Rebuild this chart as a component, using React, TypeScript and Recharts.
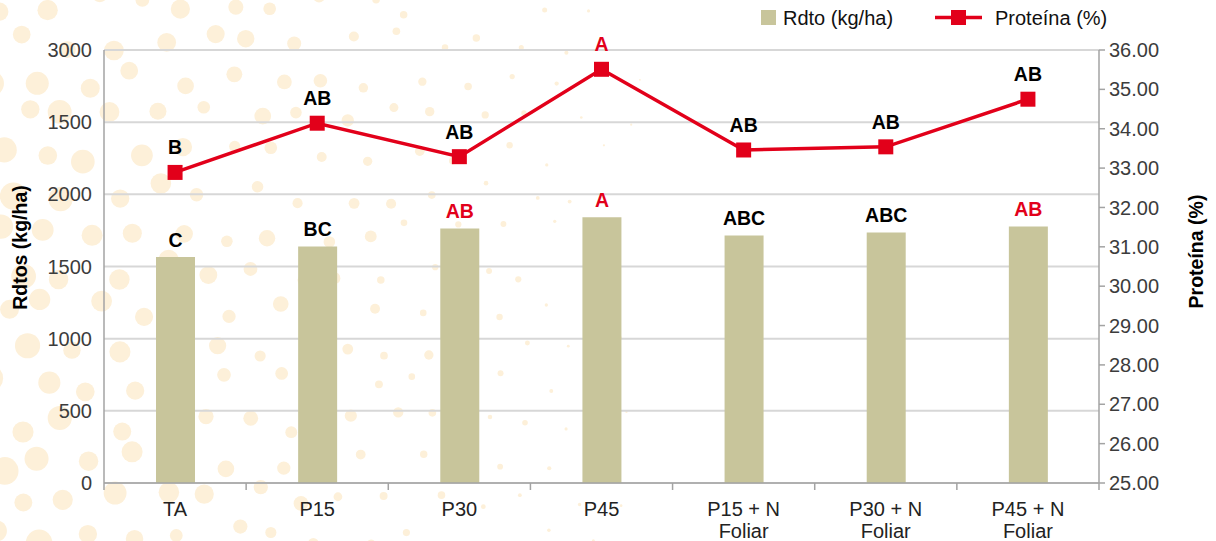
import React from "react";
import { Bar, CartesianGrid, ComposedChart, LabelList, Legend, Line, XAxis, YAxis } from "recharts";

const FONT = "'Liberation Sans', Arial, Helvetica, sans-serif";
const RED = "#e2001a";
const BAR_FILL = "#c8c59b";
const AXIS_GREY = "#a3a3a3";

// treatments, second line of each label after "|"
const treatments = ["TA", "P15", "P30", "P45", "P15 + N|Foliar", "P30 + N|Foliar", "P45 + N|Foliar"];
const yieldKgHa = [1565, 1639, 1764, 1842, 1715, 1736, 1778];
const proteinPct = [32.89, 34.14, 33.29, 35.51, 33.46, 33.54, 34.75];

// significance letters
const yieldLetters = ["C", "BC", "AB", "A", "ABC", "ABC", "AB"];
const yieldLetterRed = [false, false, true, true, false, false, true];
const proteinLetters = ["B", "AB", "AB", "A", "AB", "AB", "AB"];
const proteinLetterRed = [false, false, false, true, false, false, false];

const yieldTicks = [0, 500, 1000, 1500, 2000, 2500, 3000];
const yieldTickLabels = ["0", "500", "1000", "1500", "2000", "1500", "3000"];
const proteinTicks = [25, 26, 27, 28, 29, 30, 31, 32, 33, 34, 35, 36];

const data = treatments.map((name, i) => ({
  name,
  rdto: yieldKgHa[i],
  proteina: proteinPct[i],
}));

// halftone dot background, fading out towards the right
function hash(a: number, b: number, k: number) {
  const s = Math.sin(a * 127.1 + b * 311.7 + k * 74.7) * 43758.5453;
  return s - Math.floor(s);
}

const bgDots: { cx: number; cy: number; r: number }[] = [];
for (let row = 0; row < 16; row++) {
  for (let col = 0; col < 20; col++) {
    const cx = col * 46 + (row % 2) * 23 + (hash(row, col, 1) - 0.5) * 22;
    const cy = row * 38 + 4 + (hash(row, col, 2) - 0.5) * 22;
    const t = 1 - cx / 730;
    if (t <= 0) continue;
    const r = 12.5 * Math.pow(t, 1.25) * (0.72 + 0.45 * hash(row, col, 3));
    if (r < 0.9) continue;
    bgDots.push({ cx, cy, r });
  }
}

function Background() {
  return (
    <svg width={1216} height={541} style={{ position: "absolute", left: 0, top: 0 }}>
      {bgDots.map((d, i) => (
        <circle key={i} cx={d.cx} cy={d.cy} r={d.r} fill="#fdf0d9" />
      ))}
    </svg>
  );
}

function TreatmentTick(props: any) {
  const { x, y, payload, index } = props;
  const half = payload && payload.offset ? payload.offset : 71;
  const lines = String(payload.value).split("|");
  return (
    <g>
      <line x1={x - half} x2={x - half} y1={y} y2={y + 7} stroke={AXIS_GREY} strokeWidth={1.5} />
      {index === treatments.length - 1 && (
        <line x1={x + half} x2={x + half} y1={y} y2={y + 7} stroke={AXIS_GREY} strokeWidth={1.5} />
      )}
      {lines.map((t, i) => (
        <text key={i} x={x} y={y + 33 + i * 22} textAnchor="middle" fontFamily={FONT} fontSize={20} fill="#222">
          {t}
        </text>
      ))}
    </g>
  );
}

function SquareDot(props: any) {
  const { cx, cy, index } = props;
  if (cx == null || cy == null) return null;
  return <rect key={`sq-${index}`} x={cx - 7.5} y={cy - 7.5} width={15} height={15} fill={RED} />;
}

function BarLetter(props: any) {
  const { x, y, width, index } = props;
  return (
    <text
      x={x + width / 2}
      y={y - 10}
      textAnchor="middle"
      fontFamily={FONT}
      fontWeight="bold"
      fontSize={19.5}
      fill={yieldLetterRed[index] ? RED : "#000"}
    >
      {yieldLetters[index]}
    </text>
  );
}

function LineLetter(props: any) {
  const { x, y, index } = props;
  return (
    <text
      x={x}
      y={y - 18}
      textAnchor="middle"
      fontFamily={FONT}
      fontWeight="bold"
      fontSize={19.5}
      fill={proteinLetterRed[index] ? RED : "#000"}
    >
      {proteinLetters[index]}
    </text>
  );
}

function LegendBox() {
  return (
    <svg width={1216} height={32}>
      <rect x={761} y={10} width={15} height={15} fill={BAR_FILL} />
      <text x={783} y={25} fontFamily={FONT} fontSize={20} fill="#111">
        Rdto (kg/ha)
      </text>
      <line x1={935} x2={982} y1={17.5} y2={17.5} stroke={RED} strokeWidth={3.5} />
      <rect x={951} y={10} width={15} height={15} fill={RED} />
      <text x={995} y={25} fontFamily={FONT} fontSize={20} fill="#111">
        Proteína (%)
      </text>
    </svg>
  );
}

export default function App() {
  return (
    <div style={{ position: "absolute", left: 0, top: 0, width: 1216, height: 541, background: "#fff" }}>
      <Background />
      <div style={{ position: "absolute", left: 0, top: 0 }}>
        <ComposedChart width={1216} height={541} data={data} margin={{ top: 50, right: 37, bottom: 0, left: 44 }}>
          <CartesianGrid yAxisId="left" vertical={false} stroke="#d7d7d7" strokeWidth={2} />
          <XAxis
            dataKey="name"
            tick={<TreatmentTick />}
            tickLine={false}
            tickSize={0}
            tickMargin={0}
            interval={0}
            height={58}
            axisLine={{ stroke: AXIS_GREY, strokeWidth: 1.5 }}
          />
          <YAxis
            yAxisId="left"
            domain={[0, 3000]}
            ticks={yieldTicks}
            interval={0}
            tickFormatter={(v: number, i: number) => yieldTickLabels[i] ?? String(v)}
            width={60}
            tickLine={false}
            tickMargin={6}
            axisLine={{ stroke: AXIS_GREY, strokeWidth: 1.5 }}
            tick={{ fontFamily: FONT, fontSize: 20, fill: "#3c3c3c" }}
            label={{
              content: (p: any) => {
                const vb = p.viewBox || {};
                const cx = 27;
                const cy = (vb.y ?? 50) + (vb.height ?? 433) / 2 - 19;
                return (
                  <text
                    x={cx}
                    y={cy}
                    transform={`rotate(-90 ${cx} ${cy})`}
                    textAnchor="middle"
                    fontFamily={FONT}
                    fontWeight="bold"
                    fontSize={19.5}
                    fill="#000"
                  >
                    Rdtos (kg/ha)
                  </text>
                );
              },
            }}
          />
          <YAxis
            yAxisId="right"
            orientation="right"
            domain={[25, 36]}
            ticks={proteinTicks}
            interval={0}
            tickFormatter={(v: number) => v.toFixed(2)}
            width={80}
            tickSize={6}
            tickMargin={4}
            tickLine={{ stroke: AXIS_GREY, strokeWidth: 1.5 }}
            axisLine={{ stroke: AXIS_GREY, strokeWidth: 1.5 }}
            tick={{ fontFamily: FONT, fontSize: 20, fill: "#3c3c3c" }}
            label={{
              content: (p: any) => {
                const vb = p.viewBox || {};
                const cx = 1203;
                const cy = (vb.y ?? 50) + (vb.height ?? 433) / 2 - 15;
                return (
                  <text
                    x={cx}
                    y={cy}
                    transform={`rotate(-90 ${cx} ${cy})`}
                    textAnchor="middle"
                    fontFamily={FONT}
                    fontWeight="bold"
                    fontSize={19.5}
                    fill="#000"
                  >
                    Proteína (%)
                  </text>
                );
              },
            }}
          />
          <Legend
            layout="horizontal"
            align="center"
            verticalAlign="middle"
            content={<LegendBox />}
            wrapperStyle={{ top: 0, left: 0, width: 1216, height: 32 }}
          />
          <Bar yAxisId="left" dataKey="rdto" name="Rdto (kg/ha)" fill={BAR_FILL} barSize={39} isAnimationActive={false}>
            <LabelList dataKey="rdto" content={<BarLetter />} />
          </Bar>
          <Line
            yAxisId="right"
            dataKey="proteina"
            name="Proteína (%)"
            stroke={RED}
            strokeWidth={3.5}
            dot={<SquareDot />}
            activeDot={false}
            isAnimationActive={false}
          >
            <LabelList dataKey="proteina" content={<LineLetter />} />
          </Line>
        </ComposedChart>
      </div>
    </div>
  );
}
